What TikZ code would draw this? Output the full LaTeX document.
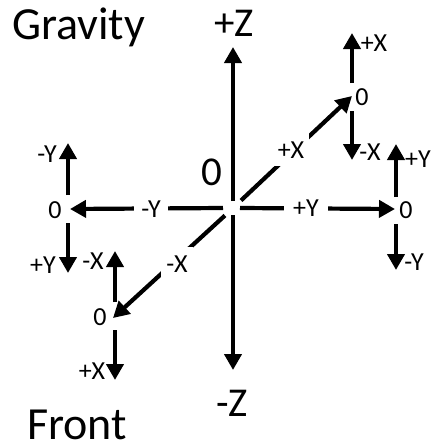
\documentclass[tikz,border=0pt]{standalone}
\usepackage{fontspec}
\setmainfont{Carlito}
\usetikzlibrary{arrows.meta,calc}
\begin{document}
\begin{tikzpicture}[x=1pt,y=-1pt,
  arr/.style={line width=4.2pt,-{Triangle[width=17pt,length=16pt]}},
  lbl/.style={font=\fontsize{26}{31}\selectfont, inner sep=0pt, anchor=base},
  gaplbl/.style={lbl, fill=white, inner xsep=9pt, inner ysep=3pt},
  diaglbl/.style={lbl, fill=white, inner xsep=5pt, inner ysep=8pt},
  big/.style={font=\fontsize{41}{49}\selectfont, inner sep=0pt, anchor=base},
  ttl/.style={font=\fontsize{46}{54}\selectfont, inner sep=0pt, anchor=base west}]
\useasboundingbox (0,0) rectangle (434,448);
% hubs
\coordinate (O) at (233,208);
\coordinate (Zp) at (233,47);
\coordinate (Zm) at (233,370);
\coordinate (UR) at (352,96);
\coordinate (R) at (396,209);
\coordinate (L) at (68,209);
\coordinate (LL) at (115,318);
% main axes
\draw[arr] ($(O)+(0,-7)$) -- (Zp);
\draw[arr] ($(O)+(0,7)$) -- (Zm);
\draw[arr] ($(O)+(7,0)$) -- ($(R)+(-1,0)$);
\draw[arr] ($(O)+(-10,0)$) -- ($(L)+(2,0)$);
\draw[arr] ($(O)!11pt!(UR)$) -- (UR);
\draw[arr] ($(O)!11pt!(LL)$) -- ($(LL)+(-2,0)$);
% small axes
\draw[arr] ($(UR)+(0,-13)$) -- ($(UR)+(0,-63)$);
\draw[arr] ($(UR)+(0,15)$) -- ($(UR)+(0,64)$);
\draw[arr] ($(R)+(0,-12)$) -- ($(R)+(0,-65)$);
\draw[arr] ($(R)+(0,15)$) -- ($(R)+(0,61)$);
\draw[arr] ($(L)+(0,-14)$) -- ($(L)+(0,-66)$);
\draw[arr] ($(L)+(0,14)$) -- ($(L)+(0,64)$);
\draw[arr] ($(LL)+(0,-16)$) -- ($(LL)+(0,-67)$);
\draw[arr] ($(LL)+(0,12)$) -- ($(LL)+(0,62)$);
% labels on the main axes
\node[gaplbl] (tYp) at (306,216) {+Y};
\node[gaplbl, inner xsep=7pt] (tYm) at (151,217) {-Y};
\node[diaglbl] (tXp) at (291,158) {+X};
\node[diaglbl] (tXm) at (177,272) {-X};
% big labels
\node[big] (tZp) at (234,36) {+Z};
\node[big] (tZm) at (232,416) {-Z};
\node[big] (tO) at (212,185) {0};
\node[ttl] (tG) at (12,39) {Gravity};
\node[ttl] (tF) at (27,439) {Front};
% small group labels
\node[lbl] (urX) at (374,51) {+X};
\node[lbl] (ur0) at (362,105) {0};
\node[lbl] (urXm) at (370,160) {-X};
\node[lbl] (rY) at (418,167) {+Y};
\node[lbl] (r0) at (406,218) {0};
\node[lbl] (rYm) at (414,270) {-Y};
\node[lbl] (lYm) at (47,162) {-Y};
\node[lbl] (l0) at (55,218) {0};
\node[lbl] (lYp) at (43,273) {+Y};
\node[lbl] (llXm) at (93,269) {-X};
\node[lbl] (ll0) at (100,325) {0};
\node[lbl] (llXp) at (92,379) {+X};
\end{tikzpicture}
\end{document}
